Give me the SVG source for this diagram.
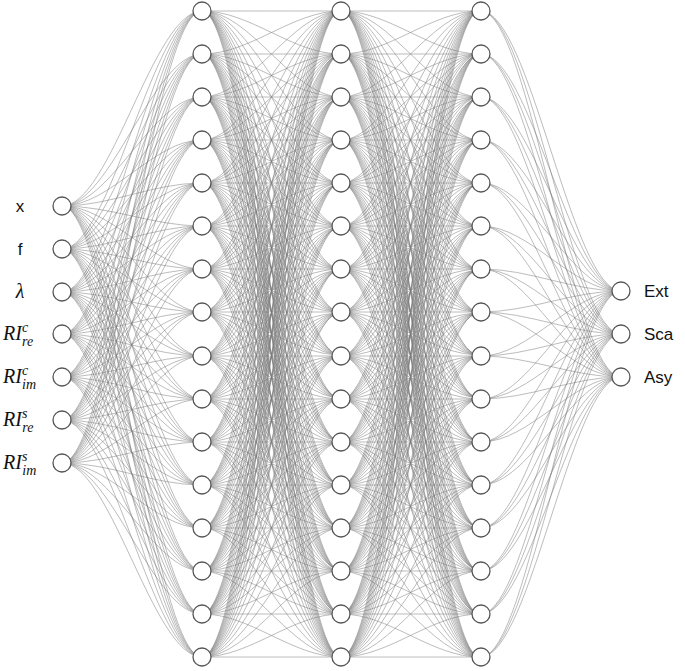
<svg xmlns="http://www.w3.org/2000/svg" xmlns:xlink="http://www.w3.org/1999/xlink" width="685" height="671" viewBox="0 0 685 671">
<style>
.e{fill:none;stroke:#7a7a7a;stroke-width:0.6;stroke-opacity:0.85}
.n{fill:#fff;stroke:#555;stroke-width:1.3}
.l{font-family:"Liberation Sans",Arial,sans-serif;font-size:17px;fill:#111}
.m{font-family:"Liberation Serif","DejaVu Serif",serif;font-style:italic;font-size:20px;fill:#111}
</style>
<defs>
<path id="f0" class="e" d="M0 0c49 0 90 0 139 0M0 0c49 0 90 43 139 43M0 0c49 0 90 86 139 86M0 0c49 0 90 129 139 129M0 0c49 0 90 172 139 172M0 0c49 0 90 215 139 215M0 0c49 0 90 258 139 258M0 0c49 0 90 301 139 301M0 0c49 0 90 345 139 345M0 0c49 0 90 388 139 388M0 0c49 0 90 431 139 431M0 0c49 0 90 474 139 474M0 0c49 0 90 517 139 517M0 0c49 0 90 560 139 560M0 0c49 0 90 603 139 603M0 0c49 0 90 646 139 646"/>
<path id="f1" class="e" d="M0 0c49 0 90 -43 139 -43M0 0c49 0 90 0 139 0M0 0c49 0 90 43 139 43M0 0c49 0 90 86 139 86M0 0c49 0 90 129 139 129M0 0c49 0 90 172 139 172M0 0c49 0 90 215 139 215M0 0c49 0 90 258 139 258M0 0c49 0 90 301 139 301M0 0c49 0 90 345 139 345M0 0c49 0 90 388 139 388M0 0c49 0 90 431 139 431M0 0c49 0 90 474 139 474M0 0c49 0 90 517 139 517M0 0c49 0 90 560 139 560M0 0c49 0 90 603 139 603"/>
<path id="f2" class="e" d="M0 0c49 0 90 -86 139 -86M0 0c49 0 90 -43 139 -43M0 0c49 0 90 0 139 0M0 0c49 0 90 43 139 43M0 0c49 0 90 86 139 86M0 0c49 0 90 129 139 129M0 0c49 0 90 172 139 172M0 0c49 0 90 215 139 215M0 0c49 0 90 258 139 258M0 0c49 0 90 301 139 301M0 0c49 0 90 345 139 345M0 0c49 0 90 388 139 388M0 0c49 0 90 431 139 431M0 0c49 0 90 474 139 474M0 0c49 0 90 517 139 517M0 0c49 0 90 560 139 560"/>
<path id="f3" class="e" d="M0 0c49 0 90 -129 139 -129M0 0c49 0 90 -86 139 -86M0 0c49 0 90 -43 139 -43M0 0c49 0 90 0 139 0M0 0c49 0 90 43 139 43M0 0c49 0 90 86 139 86M0 0c49 0 90 129 139 129M0 0c49 0 90 172 139 172M0 0c49 0 90 215 139 215M0 0c49 0 90 258 139 258M0 0c49 0 90 301 139 301M0 0c49 0 90 345 139 345M0 0c49 0 90 388 139 388M0 0c49 0 90 431 139 431M0 0c49 0 90 474 139 474M0 0c49 0 90 517 139 517"/>
<path id="f4" class="e" d="M0 0c49 0 90 -172 139 -172M0 0c49 0 90 -129 139 -129M0 0c49 0 90 -86 139 -86M0 0c49 0 90 -43 139 -43M0 0c49 0 90 0 139 0M0 0c49 0 90 43 139 43M0 0c49 0 90 86 139 86M0 0c49 0 90 129 139 129M0 0c49 0 90 172 139 172M0 0c49 0 90 215 139 215M0 0c49 0 90 258 139 258M0 0c49 0 90 301 139 301M0 0c49 0 90 345 139 345M0 0c49 0 90 388 139 388M0 0c49 0 90 431 139 431M0 0c49 0 90 474 139 474"/>
<path id="f5" class="e" d="M0 0c49 0 90 -215 139 -215M0 0c49 0 90 -172 139 -172M0 0c49 0 90 -129 139 -129M0 0c49 0 90 -86 139 -86M0 0c49 0 90 -43 139 -43M0 0c49 0 90 0 139 0M0 0c49 0 90 43 139 43M0 0c49 0 90 86 139 86M0 0c49 0 90 129 139 129M0 0c49 0 90 172 139 172M0 0c49 0 90 215 139 215M0 0c49 0 90 258 139 258M0 0c49 0 90 301 139 301M0 0c49 0 90 345 139 345M0 0c49 0 90 388 139 388M0 0c49 0 90 431 139 431"/>
<path id="f6" class="e" d="M0 0c49 0 90 -258 139 -258M0 0c49 0 90 -215 139 -215M0 0c49 0 90 -172 139 -172M0 0c49 0 90 -129 139 -129M0 0c49 0 90 -86 139 -86M0 0c49 0 90 -43 139 -43M0 0c49 0 90 0 139 0M0 0c49 0 90 43 139 43M0 0c49 0 90 86 139 86M0 0c49 0 90 129 139 129M0 0c49 0 90 172 139 172M0 0c49 0 90 215 139 215M0 0c49 0 90 258 139 258M0 0c49 0 90 301 139 301M0 0c49 0 90 345 139 345M0 0c49 0 90 388 139 388"/>
<path id="f7" class="e" d="M0 0c49 0 90 -301 139 -301M0 0c49 0 90 -258 139 -258M0 0c49 0 90 -215 139 -215M0 0c49 0 90 -172 139 -172M0 0c49 0 90 -129 139 -129M0 0c49 0 90 -86 139 -86M0 0c49 0 90 -43 139 -43M0 0c49 0 90 0 139 0M0 0c49 0 90 43 139 43M0 0c49 0 90 86 139 86M0 0c49 0 90 129 139 129M0 0c49 0 90 172 139 172M0 0c49 0 90 215 139 215M0 0c49 0 90 258 139 258M0 0c49 0 90 301 139 301M0 0c49 0 90 345 139 345"/>
<path id="f8" class="e" d="M0 0c49 0 90 -345 139 -345M0 0c49 0 90 -301 139 -301M0 0c49 0 90 -258 139 -258M0 0c49 0 90 -215 139 -215M0 0c49 0 90 -172 139 -172M0 0c49 0 90 -129 139 -129M0 0c49 0 90 -86 139 -86M0 0c49 0 90 -43 139 -43M0 0c49 0 90 0 139 0M0 0c49 0 90 43 139 43M0 0c49 0 90 86 139 86M0 0c49 0 90 129 139 129M0 0c49 0 90 172 139 172M0 0c49 0 90 215 139 215M0 0c49 0 90 258 139 258M0 0c49 0 90 301 139 301"/>
<path id="f9" class="e" d="M0 0c49 0 90 -388 139 -388M0 0c49 0 90 -345 139 -345M0 0c49 0 90 -301 139 -301M0 0c49 0 90 -258 139 -258M0 0c49 0 90 -215 139 -215M0 0c49 0 90 -172 139 -172M0 0c49 0 90 -129 139 -129M0 0c49 0 90 -86 139 -86M0 0c49 0 90 -43 139 -43M0 0c49 0 90 0 139 0M0 0c49 0 90 43 139 43M0 0c49 0 90 86 139 86M0 0c49 0 90 129 139 129M0 0c49 0 90 172 139 172M0 0c49 0 90 215 139 215M0 0c49 0 90 258 139 258"/>
<path id="f10" class="e" d="M0 0c49 0 90 -431 139 -431M0 0c49 0 90 -388 139 -388M0 0c49 0 90 -345 139 -345M0 0c49 0 90 -301 139 -301M0 0c49 0 90 -258 139 -258M0 0c49 0 90 -215 139 -215M0 0c49 0 90 -172 139 -172M0 0c49 0 90 -129 139 -129M0 0c49 0 90 -86 139 -86M0 0c49 0 90 -43 139 -43M0 0c49 0 90 0 139 0M0 0c49 0 90 43 139 43M0 0c49 0 90 86 139 86M0 0c49 0 90 129 139 129M0 0c49 0 90 172 139 172M0 0c49 0 90 215 139 215"/>
<path id="f11" class="e" d="M0 0c49 0 90 -474 139 -474M0 0c49 0 90 -431 139 -431M0 0c49 0 90 -388 139 -388M0 0c49 0 90 -345 139 -345M0 0c49 0 90 -301 139 -301M0 0c49 0 90 -258 139 -258M0 0c49 0 90 -215 139 -215M0 0c49 0 90 -172 139 -172M0 0c49 0 90 -129 139 -129M0 0c49 0 90 -86 139 -86M0 0c49 0 90 -43 139 -43M0 0c49 0 90 0 139 0M0 0c49 0 90 43 139 43M0 0c49 0 90 86 139 86M0 0c49 0 90 129 139 129M0 0c49 0 90 172 139 172"/>
<path id="f12" class="e" d="M0 0c49 0 90 -517 139 -517M0 0c49 0 90 -474 139 -474M0 0c49 0 90 -431 139 -431M0 0c49 0 90 -388 139 -388M0 0c49 0 90 -345 139 -345M0 0c49 0 90 -301 139 -301M0 0c49 0 90 -258 139 -258M0 0c49 0 90 -215 139 -215M0 0c49 0 90 -172 139 -172M0 0c49 0 90 -129 139 -129M0 0c49 0 90 -86 139 -86M0 0c49 0 90 -43 139 -43M0 0c49 0 90 0 139 0M0 0c49 0 90 43 139 43M0 0c49 0 90 86 139 86M0 0c49 0 90 129 139 129"/>
<path id="f13" class="e" d="M0 0c49 0 90 -560 139 -560M0 0c49 0 90 -517 139 -517M0 0c49 0 90 -474 139 -474M0 0c49 0 90 -431 139 -431M0 0c49 0 90 -388 139 -388M0 0c49 0 90 -345 139 -345M0 0c49 0 90 -301 139 -301M0 0c49 0 90 -258 139 -258M0 0c49 0 90 -215 139 -215M0 0c49 0 90 -172 139 -172M0 0c49 0 90 -129 139 -129M0 0c49 0 90 -86 139 -86M0 0c49 0 90 -43 139 -43M0 0c49 0 90 0 139 0M0 0c49 0 90 43 139 43M0 0c49 0 90 86 139 86"/>
<path id="f14" class="e" d="M0 0c49 0 90 -603 139 -603M0 0c49 0 90 -560 139 -560M0 0c49 0 90 -517 139 -517M0 0c49 0 90 -474 139 -474M0 0c49 0 90 -431 139 -431M0 0c49 0 90 -388 139 -388M0 0c49 0 90 -345 139 -345M0 0c49 0 90 -301 139 -301M0 0c49 0 90 -258 139 -258M0 0c49 0 90 -215 139 -215M0 0c49 0 90 -172 139 -172M0 0c49 0 90 -129 139 -129M0 0c49 0 90 -86 139 -86M0 0c49 0 90 -43 139 -43M0 0c49 0 90 0 139 0M0 0c49 0 90 43 139 43"/>
<path id="f15" class="e" d="M0 0c49 0 90 -646 139 -646M0 0c49 0 90 -603 139 -603M0 0c49 0 90 -560 139 -560M0 0c49 0 90 -517 139 -517M0 0c49 0 90 -474 139 -474M0 0c49 0 90 -431 139 -431M0 0c49 0 90 -388 139 -388M0 0c49 0 90 -345 139 -345M0 0c49 0 90 -301 139 -301M0 0c49 0 90 -258 139 -258M0 0c49 0 90 -215 139 -215M0 0c49 0 90 -172 139 -172M0 0c49 0 90 -129 139 -129M0 0c49 0 90 -86 139 -86M0 0c49 0 90 -43 139 -43M0 0c49 0 90 0 139 0"/>
</defs>
<g id="connectors">
<path class="e" d="M62 206c49 0 91 -195 140 -195M62 206c49 0 91 -152 140 -152M62 206c49 0 91 -109 140 -109M62 206c49 0 91 -66 140 -66M62 206c49 0 91 -23 140 -23M62 206c49 0 91 20 140 20M62 206c49 0 91 63 140 63M62 206c49 0 91 106 140 106M62 206c49 0 91 150 140 150M62 206c49 0 91 193 140 193M62 206c49 0 91 236 140 236M62 206c49 0 91 279 140 279M62 206c49 0 91 322 140 322M62 206c49 0 91 365 140 365M62 206c49 0 91 408 140 408M62 206c49 0 91 451 140 451"/>
<path class="e" d="M62 249c49 0 91 -238 140 -238M62 249c49 0 91 -195 140 -195M62 249c49 0 91 -152 140 -152M62 249c49 0 91 -109 140 -109M62 249c49 0 91 -66 140 -66M62 249c49 0 91 -23 140 -23M62 249c49 0 91 20 140 20M62 249c49 0 91 63 140 63M62 249c49 0 91 107 140 107M62 249c49 0 91 150 140 150M62 249c49 0 91 193 140 193M62 249c49 0 91 236 140 236M62 249c49 0 91 279 140 279M62 249c49 0 91 322 140 322M62 249c49 0 91 365 140 365M62 249c49 0 91 408 140 408"/>
<path class="e" d="M62 292c49 0 91 -281 140 -281M62 292c49 0 91 -238 140 -238M62 292c49 0 91 -195 140 -195M62 292c49 0 91 -152 140 -152M62 292c49 0 91 -109 140 -109M62 292c49 0 91 -66 140 -66M62 292c49 0 91 -23 140 -23M62 292c49 0 91 20 140 20M62 292c49 0 91 64 140 64M62 292c49 0 91 107 140 107M62 292c49 0 91 150 140 150M62 292c49 0 91 193 140 193M62 292c49 0 91 236 140 236M62 292c49 0 91 279 140 279M62 292c49 0 91 322 140 322M62 292c49 0 91 365 140 365"/>
<path class="e" d="M62 334c49 0 91 -323 140 -323M62 334c49 0 91 -280 140 -280M62 334c49 0 91 -237 140 -237M62 334c49 0 91 -194 140 -194M62 334c49 0 91 -151 140 -151M62 334c49 0 91 -108 140 -108M62 334c49 0 91 -65 140 -65M62 334c49 0 91 -22 140 -22M62 334c49 0 91 22 140 22M62 334c49 0 91 65 140 65M62 334c49 0 91 108 140 108M62 334c49 0 91 151 140 151M62 334c49 0 91 194 140 194M62 334c49 0 91 237 140 237M62 334c49 0 91 280 140 280M62 334c49 0 91 323 140 323"/>
<path class="e" d="M62 377c49 0 91 -366 140 -366M62 377c49 0 91 -323 140 -323M62 377c49 0 91 -280 140 -280M62 377c49 0 91 -237 140 -237M62 377c49 0 91 -194 140 -194M62 377c49 0 91 -151 140 -151M62 377c49 0 91 -108 140 -108M62 377c49 0 91 -65 140 -65M62 377c49 0 91 -21 140 -21M62 377c49 0 91 22 140 22M62 377c49 0 91 65 140 65M62 377c49 0 91 108 140 108M62 377c49 0 91 151 140 151M62 377c49 0 91 194 140 194M62 377c49 0 91 237 140 237M62 377c49 0 91 280 140 280"/>
<path class="e" d="M62 420c49 0 91 -409 140 -409M62 420c49 0 91 -366 140 -366M62 420c49 0 91 -323 140 -323M62 420c49 0 91 -280 140 -280M62 420c49 0 91 -237 140 -237M62 420c49 0 91 -194 140 -194M62 420c49 0 91 -151 140 -151M62 420c49 0 91 -108 140 -108M62 420c49 0 91 -64 140 -64M62 420c49 0 91 -21 140 -21M62 420c49 0 91 22 140 22M62 420c49 0 91 65 140 65M62 420c49 0 91 108 140 108M62 420c49 0 91 151 140 151M62 420c49 0 91 194 140 194M62 420c49 0 91 237 140 237"/>
<path class="e" d="M62 463c49 0 91 -452 140 -452M62 463c49 0 91 -409 140 -409M62 463c49 0 91 -366 140 -366M62 463c49 0 91 -323 140 -323M62 463c49 0 91 -280 140 -280M62 463c49 0 91 -237 140 -237M62 463c49 0 91 -194 140 -194M62 463c49 0 91 -151 140 -151M62 463c49 0 91 -107 140 -107M62 463c49 0 91 -64 140 -64M62 463c49 0 91 -21 140 -21M62 463c49 0 91 22 140 22M62 463c49 0 91 65 140 65M62 463c49 0 91 108 140 108M62 463c49 0 91 151 140 151M62 463c49 0 91 194 140 194"/>
<use xlink:href="#f0" x="202" y="11"/><use xlink:href="#f1" x="202" y="54"/><use xlink:href="#f2" x="202" y="97"/><use xlink:href="#f3" x="202" y="140"/><use xlink:href="#f4" x="202" y="183"/><use xlink:href="#f5" x="202" y="226"/><use xlink:href="#f6" x="202" y="269"/><use xlink:href="#f7" x="202" y="312"/><use xlink:href="#f8" x="202" y="356"/><use xlink:href="#f9" x="202" y="399"/><use xlink:href="#f10" x="202" y="442"/><use xlink:href="#f11" x="202" y="485"/><use xlink:href="#f12" x="202" y="528"/><use xlink:href="#f13" x="202" y="571"/><use xlink:href="#f14" x="202" y="614"/><use xlink:href="#f15" x="202" y="657"/>
<use xlink:href="#f0" x="341" y="11"/><use xlink:href="#f1" x="341" y="54"/><use xlink:href="#f2" x="341" y="97"/><use xlink:href="#f3" x="341" y="140"/><use xlink:href="#f4" x="341" y="183"/><use xlink:href="#f5" x="341" y="226"/><use xlink:href="#f6" x="341" y="269"/><use xlink:href="#f7" x="341" y="312"/><use xlink:href="#f8" x="341" y="356"/><use xlink:href="#f9" x="341" y="399"/><use xlink:href="#f10" x="341" y="442"/><use xlink:href="#f11" x="341" y="485"/><use xlink:href="#f12" x="341" y="528"/><use xlink:href="#f13" x="341" y="571"/><use xlink:href="#f14" x="341" y="614"/><use xlink:href="#f15" x="341" y="657"/>
<path class="e" d="M481 11c49 0 91 280 140 280M481 54c49 0 91 237 140 237M481 97c49 0 91 194 140 194M481 140c49 0 91 151 140 151M481 183c49 0 91 108 140 108M481 226c49 0 91 65 140 65M481 269c49 0 91 22 140 22M481 312c49 0 91 -21 140 -21M481 356c49 0 91 -65 140 -65M481 399c49 0 91 -108 140 -108M481 442c49 0 91 -151 140 -151M481 485c49 0 91 -194 140 -194M481 528c49 0 91 -237 140 -237M481 571c49 0 91 -280 140 -280M481 614c49 0 91 -323 140 -323M481 657c49 0 91 -366 140 -366"/>
<path class="e" d="M481 11c49 0 91 323 140 323M481 54c49 0 91 280 140 280M481 97c49 0 91 237 140 237M481 140c49 0 91 194 140 194M481 183c49 0 91 151 140 151M481 226c49 0 91 108 140 108M481 269c49 0 91 65 140 65M481 312c49 0 91 22 140 22M481 356c49 0 91 -22 140 -22M481 399c49 0 91 -65 140 -65M481 442c49 0 91 -108 140 -108M481 485c49 0 91 -151 140 -151M481 528c49 0 91 -194 140 -194M481 571c49 0 91 -237 140 -237M481 614c49 0 91 -280 140 -280M481 657c49 0 91 -323 140 -323"/>
<path class="e" d="M481 11c49 0 91 366 140 366M481 54c49 0 91 323 140 323M481 97c49 0 91 280 140 280M481 140c49 0 91 237 140 237M481 183c49 0 91 194 140 194M481 226c49 0 91 151 140 151M481 269c49 0 91 108 140 108M481 312c49 0 91 65 140 65M481 356c49 0 91 21 140 21M481 399c49 0 91 -22 140 -22M481 442c49 0 91 -65 140 -65M481 485c49 0 91 -108 140 -108M481 528c49 0 91 -151 140 -151M481 571c49 0 91 -194 140 -194M481 614c49 0 91 -237 140 -237M481 657c49 0 91 -280 140 -280"/>
</g>
<g id="input-layer">
<g id="in-x"><circle class="n" cx="62" cy="206" r="9"/><text class="l" x="20" y="212" text-anchor="middle">x</text></g>
<g id="in-f"><circle class="n" cx="62" cy="249" r="9"/><text class="l" x="20" y="255" text-anchor="middle">f</text></g>
<g id="in-lambda"><circle class="n" cx="62" cy="292" r="9"/><text class="m" x="20" y="298" text-anchor="middle">λ</text></g>
<g id="in-ricre"><circle class="n" cx="62" cy="334" r="9"/><text class="m" x="3" y="340">RI<tspan font-size="14" dy="-8">c</tspan><tspan font-size="14" dx="-6" dy="14">re</tspan></text></g>
<g id="in-ricim"><circle class="n" cx="62" cy="377" r="9"/><text class="m" x="3" y="383">RI<tspan font-size="14" dy="-8">c</tspan><tspan font-size="14" dx="-6" dy="14">im</tspan></text></g>
<g id="in-risre"><circle class="n" cx="62" cy="420" r="9"/><text class="m" x="3" y="426">RI<tspan font-size="14" dy="-8">s</tspan><tspan font-size="14" dx="-5" dy="14">re</tspan></text></g>
<g id="in-risim"><circle class="n" cx="62" cy="463" r="9"/><text class="m" x="3" y="469">RI<tspan font-size="14" dy="-8">s</tspan><tspan font-size="14" dx="-5" dy="14">im</tspan></text></g>
</g>
<g id="hidden-1">
<circle class="n" cx="202" cy="11" r="9"/><circle class="n" cx="202" cy="54" r="9"/><circle class="n" cx="202" cy="97" r="9"/><circle class="n" cx="202" cy="140" r="9"/><circle class="n" cx="202" cy="183" r="9"/><circle class="n" cx="202" cy="226" r="9"/><circle class="n" cx="202" cy="269" r="9"/><circle class="n" cx="202" cy="312" r="9"/><circle class="n" cx="202" cy="356" r="9"/><circle class="n" cx="202" cy="399" r="9"/><circle class="n" cx="202" cy="442" r="9"/><circle class="n" cx="202" cy="485" r="9"/><circle class="n" cx="202" cy="528" r="9"/><circle class="n" cx="202" cy="571" r="9"/><circle class="n" cx="202" cy="614" r="9"/><circle class="n" cx="202" cy="657" r="9"/>
</g>
<g id="hidden-2">
<circle class="n" cx="341" cy="11" r="9"/><circle class="n" cx="341" cy="54" r="9"/><circle class="n" cx="341" cy="97" r="9"/><circle class="n" cx="341" cy="140" r="9"/><circle class="n" cx="341" cy="183" r="9"/><circle class="n" cx="341" cy="226" r="9"/><circle class="n" cx="341" cy="269" r="9"/><circle class="n" cx="341" cy="312" r="9"/><circle class="n" cx="341" cy="356" r="9"/><circle class="n" cx="341" cy="399" r="9"/><circle class="n" cx="341" cy="442" r="9"/><circle class="n" cx="341" cy="485" r="9"/><circle class="n" cx="341" cy="528" r="9"/><circle class="n" cx="341" cy="571" r="9"/><circle class="n" cx="341" cy="614" r="9"/><circle class="n" cx="341" cy="657" r="9"/>
</g>
<g id="hidden-3">
<circle class="n" cx="481" cy="11" r="9"/><circle class="n" cx="481" cy="54" r="9"/><circle class="n" cx="481" cy="97" r="9"/><circle class="n" cx="481" cy="140" r="9"/><circle class="n" cx="481" cy="183" r="9"/><circle class="n" cx="481" cy="226" r="9"/><circle class="n" cx="481" cy="269" r="9"/><circle class="n" cx="481" cy="312" r="9"/><circle class="n" cx="481" cy="356" r="9"/><circle class="n" cx="481" cy="399" r="9"/><circle class="n" cx="481" cy="442" r="9"/><circle class="n" cx="481" cy="485" r="9"/><circle class="n" cx="481" cy="528" r="9"/><circle class="n" cx="481" cy="571" r="9"/><circle class="n" cx="481" cy="614" r="9"/><circle class="n" cx="481" cy="657" r="9"/>
</g>
<g id="output-layer">
<g id="out-ext"><circle class="n" cx="621" cy="291" r="9"/><text class="l" x="644" y="297">Ext</text></g>
<g id="out-sca"><circle class="n" cx="621" cy="334" r="9"/><text class="l" x="644" y="340">Sca</text></g>
<g id="out-asy"><circle class="n" cx="621" cy="377" r="9"/><text class="l" x="644" y="383">Asy</text></g>
</g>
</svg>
